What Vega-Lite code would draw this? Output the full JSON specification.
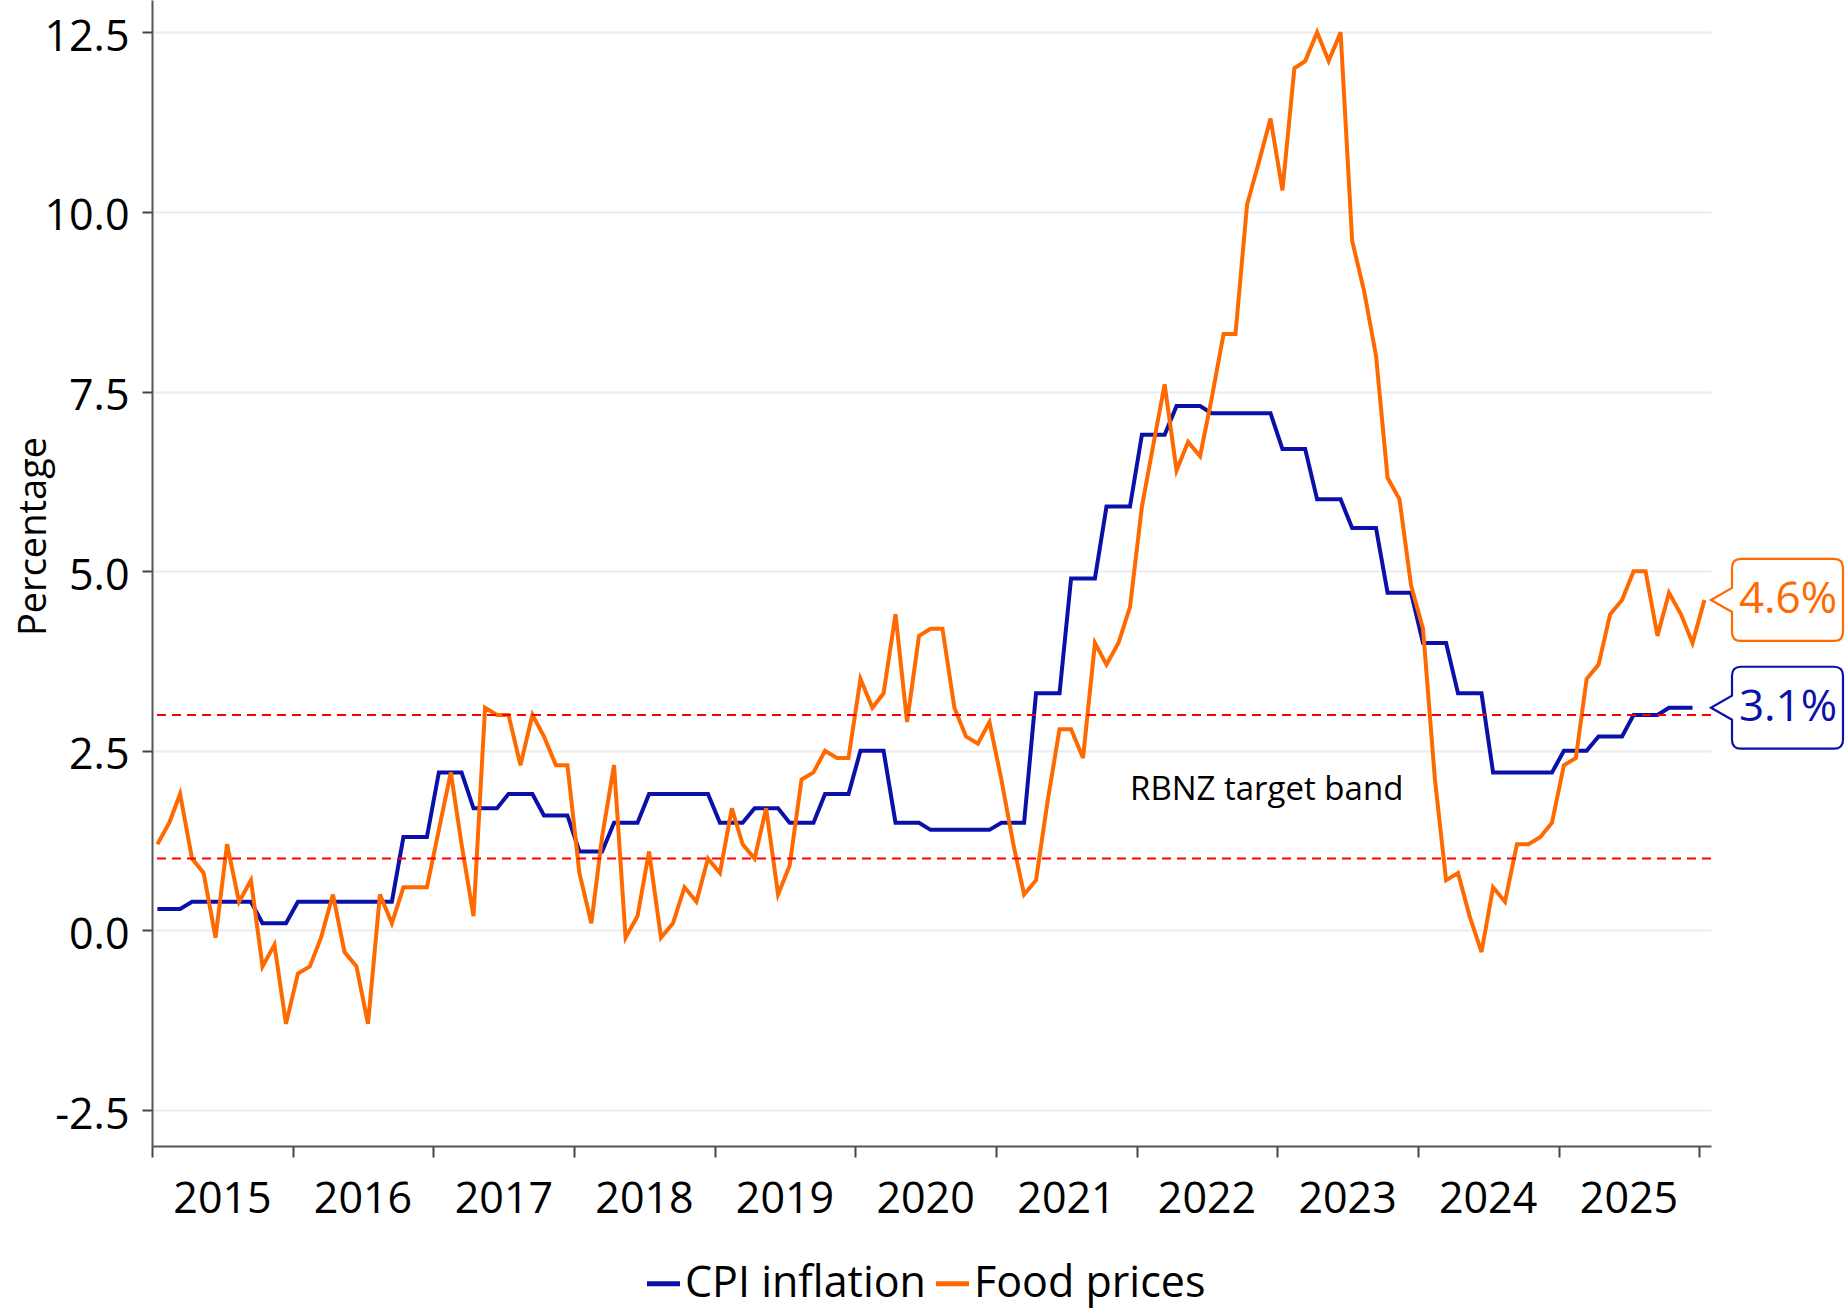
{
  "$schema": "https://vega.github.io/schema/vega-lite/v6.json",
  "width": 1559,
  "height": 1146,
  "autosize": {"type": "none"},
  "padding": {"left": 152, "top": 0, "right": 136, "bottom": 165},
  "background": "white",
  "config": {
    "view": {"stroke": null},
    "font": "Open Sans"
  },
  "datasets": {
    "series": [
      {"date":"2015-01-15","series":"CPI inflation","value":0.3},{"date":"2015-02-15","series":"CPI inflation","value":0.3},{"date":"2015-03-15","series":"CPI inflation","value":0.3},
      {"date":"2015-04-15","series":"CPI inflation","value":0.4},{"date":"2015-05-15","series":"CPI inflation","value":0.4},{"date":"2015-06-15","series":"CPI inflation","value":0.4},
      {"date":"2015-07-15","series":"CPI inflation","value":0.4},{"date":"2015-08-15","series":"CPI inflation","value":0.4},{"date":"2015-09-15","series":"CPI inflation","value":0.4},
      {"date":"2015-10-15","series":"CPI inflation","value":0.1},{"date":"2015-11-15","series":"CPI inflation","value":0.1},{"date":"2015-12-15","series":"CPI inflation","value":0.1},
      {"date":"2016-01-15","series":"CPI inflation","value":0.4},{"date":"2016-02-15","series":"CPI inflation","value":0.4},{"date":"2016-03-15","series":"CPI inflation","value":0.4},
      {"date":"2016-04-15","series":"CPI inflation","value":0.4},{"date":"2016-05-15","series":"CPI inflation","value":0.4},{"date":"2016-06-15","series":"CPI inflation","value":0.4},
      {"date":"2016-07-15","series":"CPI inflation","value":0.4},{"date":"2016-08-15","series":"CPI inflation","value":0.4},{"date":"2016-09-15","series":"CPI inflation","value":0.4},
      {"date":"2016-10-15","series":"CPI inflation","value":1.3},{"date":"2016-11-15","series":"CPI inflation","value":1.3},{"date":"2016-12-15","series":"CPI inflation","value":1.3},
      {"date":"2017-01-15","series":"CPI inflation","value":2.2},{"date":"2017-02-15","series":"CPI inflation","value":2.2},{"date":"2017-03-15","series":"CPI inflation","value":2.2},
      {"date":"2017-04-15","series":"CPI inflation","value":1.7},{"date":"2017-05-15","series":"CPI inflation","value":1.7},{"date":"2017-06-15","series":"CPI inflation","value":1.7},
      {"date":"2017-07-15","series":"CPI inflation","value":1.9},{"date":"2017-08-15","series":"CPI inflation","value":1.9},{"date":"2017-09-15","series":"CPI inflation","value":1.9},
      {"date":"2017-10-15","series":"CPI inflation","value":1.6},{"date":"2017-11-15","series":"CPI inflation","value":1.6},{"date":"2017-12-15","series":"CPI inflation","value":1.6},
      {"date":"2018-01-15","series":"CPI inflation","value":1.1},{"date":"2018-02-15","series":"CPI inflation","value":1.1},{"date":"2018-03-15","series":"CPI inflation","value":1.1},
      {"date":"2018-04-15","series":"CPI inflation","value":1.5},{"date":"2018-05-15","series":"CPI inflation","value":1.5},{"date":"2018-06-15","series":"CPI inflation","value":1.5},
      {"date":"2018-07-15","series":"CPI inflation","value":1.9},{"date":"2018-08-15","series":"CPI inflation","value":1.9},{"date":"2018-09-15","series":"CPI inflation","value":1.9},
      {"date":"2018-10-15","series":"CPI inflation","value":1.9},{"date":"2018-11-15","series":"CPI inflation","value":1.9},{"date":"2018-12-15","series":"CPI inflation","value":1.9},
      {"date":"2019-01-15","series":"CPI inflation","value":1.5},{"date":"2019-02-15","series":"CPI inflation","value":1.5},{"date":"2019-03-15","series":"CPI inflation","value":1.5},
      {"date":"2019-04-15","series":"CPI inflation","value":1.7},{"date":"2019-05-15","series":"CPI inflation","value":1.7},{"date":"2019-06-15","series":"CPI inflation","value":1.7},
      {"date":"2019-07-15","series":"CPI inflation","value":1.5},{"date":"2019-08-15","series":"CPI inflation","value":1.5},{"date":"2019-09-15","series":"CPI inflation","value":1.5},
      {"date":"2019-10-15","series":"CPI inflation","value":1.9},{"date":"2019-11-15","series":"CPI inflation","value":1.9},{"date":"2019-12-15","series":"CPI inflation","value":1.9},
      {"date":"2020-01-15","series":"CPI inflation","value":2.5},{"date":"2020-02-15","series":"CPI inflation","value":2.5},{"date":"2020-03-15","series":"CPI inflation","value":2.5},
      {"date":"2020-04-15","series":"CPI inflation","value":1.5},{"date":"2020-05-15","series":"CPI inflation","value":1.5},{"date":"2020-06-15","series":"CPI inflation","value":1.5},
      {"date":"2020-07-15","series":"CPI inflation","value":1.4},{"date":"2020-08-15","series":"CPI inflation","value":1.4},{"date":"2020-09-15","series":"CPI inflation","value":1.4},
      {"date":"2020-10-15","series":"CPI inflation","value":1.4},{"date":"2020-11-15","series":"CPI inflation","value":1.4},{"date":"2020-12-15","series":"CPI inflation","value":1.4},
      {"date":"2021-01-15","series":"CPI inflation","value":1.5},{"date":"2021-02-15","series":"CPI inflation","value":1.5},{"date":"2021-03-15","series":"CPI inflation","value":1.5},
      {"date":"2021-04-15","series":"CPI inflation","value":3.3},{"date":"2021-05-15","series":"CPI inflation","value":3.3},{"date":"2021-06-15","series":"CPI inflation","value":3.3},
      {"date":"2021-07-15","series":"CPI inflation","value":4.9},{"date":"2021-08-15","series":"CPI inflation","value":4.9},{"date":"2021-09-15","series":"CPI inflation","value":4.9},
      {"date":"2021-10-15","series":"CPI inflation","value":5.9},{"date":"2021-11-15","series":"CPI inflation","value":5.9},{"date":"2021-12-15","series":"CPI inflation","value":5.9},
      {"date":"2022-01-15","series":"CPI inflation","value":6.9},{"date":"2022-02-15","series":"CPI inflation","value":6.9},{"date":"2022-03-15","series":"CPI inflation","value":6.9},
      {"date":"2022-04-15","series":"CPI inflation","value":7.3},{"date":"2022-05-15","series":"CPI inflation","value":7.3},{"date":"2022-06-15","series":"CPI inflation","value":7.3},
      {"date":"2022-07-15","series":"CPI inflation","value":7.2},{"date":"2022-08-15","series":"CPI inflation","value":7.2},{"date":"2022-09-15","series":"CPI inflation","value":7.2},
      {"date":"2022-10-15","series":"CPI inflation","value":7.2},{"date":"2022-11-15","series":"CPI inflation","value":7.2},{"date":"2022-12-15","series":"CPI inflation","value":7.2},
      {"date":"2023-01-15","series":"CPI inflation","value":6.7},{"date":"2023-02-15","series":"CPI inflation","value":6.7},{"date":"2023-03-15","series":"CPI inflation","value":6.7},
      {"date":"2023-04-15","series":"CPI inflation","value":6.0},{"date":"2023-05-15","series":"CPI inflation","value":6.0},{"date":"2023-06-15","series":"CPI inflation","value":6.0},
      {"date":"2023-07-15","series":"CPI inflation","value":5.6},{"date":"2023-08-15","series":"CPI inflation","value":5.6},{"date":"2023-09-15","series":"CPI inflation","value":5.6},
      {"date":"2023-10-15","series":"CPI inflation","value":4.7},{"date":"2023-11-15","series":"CPI inflation","value":4.7},{"date":"2023-12-15","series":"CPI inflation","value":4.7},
      {"date":"2024-01-15","series":"CPI inflation","value":4.0},{"date":"2024-02-15","series":"CPI inflation","value":4.0},{"date":"2024-03-15","series":"CPI inflation","value":4.0},
      {"date":"2024-04-15","series":"CPI inflation","value":3.3},{"date":"2024-05-15","series":"CPI inflation","value":3.3},{"date":"2024-06-15","series":"CPI inflation","value":3.3},
      {"date":"2024-07-15","series":"CPI inflation","value":2.2},{"date":"2024-08-15","series":"CPI inflation","value":2.2},{"date":"2024-09-15","series":"CPI inflation","value":2.2},
      {"date":"2024-10-15","series":"CPI inflation","value":2.2},{"date":"2024-11-15","series":"CPI inflation","value":2.2},{"date":"2024-12-15","series":"CPI inflation","value":2.2},
      {"date":"2025-01-15","series":"CPI inflation","value":2.5},{"date":"2025-02-15","series":"CPI inflation","value":2.5},{"date":"2025-03-15","series":"CPI inflation","value":2.5},
      {"date":"2025-04-15","series":"CPI inflation","value":2.7},{"date":"2025-05-15","series":"CPI inflation","value":2.7},{"date":"2025-06-15","series":"CPI inflation","value":2.7},
      {"date":"2025-07-15","series":"CPI inflation","value":3.0},{"date":"2025-08-15","series":"CPI inflation","value":3.0},{"date":"2025-09-15","series":"CPI inflation","value":3.0},
      {"date":"2025-10-15","series":"CPI inflation","value":3.1},{"date":"2025-11-15","series":"CPI inflation","value":3.1},{"date":"2025-12-15","series":"CPI inflation","value":3.1},

      {"date":"2015-01-15","series":"Food prices","value":1.2},{"date":"2015-02-15","series":"Food prices","value":1.5},{"date":"2015-03-15","series":"Food prices","value":1.9},
      {"date":"2015-04-15","series":"Food prices","value":1.0},{"date":"2015-05-15","series":"Food prices","value":0.8},{"date":"2015-06-15","series":"Food prices","value":-0.1},
      {"date":"2015-07-15","series":"Food prices","value":1.2},{"date":"2015-08-15","series":"Food prices","value":0.4},{"date":"2015-09-15","series":"Food prices","value":0.7},
      {"date":"2015-10-15","series":"Food prices","value":-0.5},{"date":"2015-11-15","series":"Food prices","value":-0.2},{"date":"2015-12-15","series":"Food prices","value":-1.3},
      {"date":"2016-01-15","series":"Food prices","value":-0.6},{"date":"2016-02-15","series":"Food prices","value":-0.5},{"date":"2016-03-15","series":"Food prices","value":-0.1},
      {"date":"2016-04-15","series":"Food prices","value":0.5},{"date":"2016-05-15","series":"Food prices","value":-0.3},{"date":"2016-06-15","series":"Food prices","value":-0.5},
      {"date":"2016-07-15","series":"Food prices","value":-1.3},{"date":"2016-08-15","series":"Food prices","value":0.5},{"date":"2016-09-15","series":"Food prices","value":0.1},
      {"date":"2016-10-15","series":"Food prices","value":0.6},{"date":"2016-11-15","series":"Food prices","value":0.6},{"date":"2016-12-15","series":"Food prices","value":0.6},
      {"date":"2017-01-15","series":"Food prices","value":1.4},{"date":"2017-02-15","series":"Food prices","value":2.2},{"date":"2017-03-15","series":"Food prices","value":1.2},
      {"date":"2017-04-15","series":"Food prices","value":0.2},{"date":"2017-05-15","series":"Food prices","value":3.1},{"date":"2017-06-15","series":"Food prices","value":3.0},
      {"date":"2017-07-15","series":"Food prices","value":3.0},{"date":"2017-08-15","series":"Food prices","value":2.3},{"date":"2017-09-15","series":"Food prices","value":3.0},
      {"date":"2017-10-15","series":"Food prices","value":2.7},{"date":"2017-11-15","series":"Food prices","value":2.3},{"date":"2017-12-15","series":"Food prices","value":2.3},
      {"date":"2018-01-15","series":"Food prices","value":0.8},{"date":"2018-02-15","series":"Food prices","value":0.1},{"date":"2018-03-15","series":"Food prices","value":1.3},
      {"date":"2018-04-15","series":"Food prices","value":2.3},{"date":"2018-05-15","series":"Food prices","value":-0.1},{"date":"2018-06-15","series":"Food prices","value":0.2},
      {"date":"2018-07-15","series":"Food prices","value":1.1},{"date":"2018-08-15","series":"Food prices","value":-0.1},{"date":"2018-09-15","series":"Food prices","value":0.1},
      {"date":"2018-10-15","series":"Food prices","value":0.6},{"date":"2018-11-15","series":"Food prices","value":0.4},{"date":"2018-12-15","series":"Food prices","value":1.0},
      {"date":"2019-01-15","series":"Food prices","value":0.8},{"date":"2019-02-15","series":"Food prices","value":1.7},{"date":"2019-03-15","series":"Food prices","value":1.2},
      {"date":"2019-04-15","series":"Food prices","value":1.0},{"date":"2019-05-15","series":"Food prices","value":1.7},{"date":"2019-06-15","series":"Food prices","value":0.5},
      {"date":"2019-07-15","series":"Food prices","value":0.9},{"date":"2019-08-15","series":"Food prices","value":2.1},{"date":"2019-09-15","series":"Food prices","value":2.2},
      {"date":"2019-10-15","series":"Food prices","value":2.5},{"date":"2019-11-15","series":"Food prices","value":2.4},{"date":"2019-12-15","series":"Food prices","value":2.4},
      {"date":"2020-01-15","series":"Food prices","value":3.5},{"date":"2020-02-15","series":"Food prices","value":3.1},{"date":"2020-03-15","series":"Food prices","value":3.3},
      {"date":"2020-04-15","series":"Food prices","value":4.4},{"date":"2020-05-15","series":"Food prices","value":2.9},{"date":"2020-06-15","series":"Food prices","value":4.1},
      {"date":"2020-07-15","series":"Food prices","value":4.2},{"date":"2020-08-15","series":"Food prices","value":4.2},{"date":"2020-09-15","series":"Food prices","value":3.1},
      {"date":"2020-10-15","series":"Food prices","value":2.7},{"date":"2020-11-15","series":"Food prices","value":2.6},{"date":"2020-12-15","series":"Food prices","value":2.9},
      {"date":"2021-01-15","series":"Food prices","value":2.1},{"date":"2021-02-15","series":"Food prices","value":1.2},{"date":"2021-03-15","series":"Food prices","value":0.5},
      {"date":"2021-04-15","series":"Food prices","value":0.7},{"date":"2021-05-15","series":"Food prices","value":1.8},{"date":"2021-06-15","series":"Food prices","value":2.8},
      {"date":"2021-07-15","series":"Food prices","value":2.8},{"date":"2021-08-15","series":"Food prices","value":2.4},{"date":"2021-09-15","series":"Food prices","value":4.0},
      {"date":"2021-10-15","series":"Food prices","value":3.7},{"date":"2021-11-15","series":"Food prices","value":4.0},{"date":"2021-12-15","series":"Food prices","value":4.5},
      {"date":"2022-01-15","series":"Food prices","value":5.9},{"date":"2022-02-15","series":"Food prices","value":6.8},{"date":"2022-03-15","series":"Food prices","value":7.6},
      {"date":"2022-04-15","series":"Food prices","value":6.4},{"date":"2022-05-15","series":"Food prices","value":6.8},{"date":"2022-06-15","series":"Food prices","value":6.6},
      {"date":"2022-07-15","series":"Food prices","value":7.4},{"date":"2022-08-15","series":"Food prices","value":8.3},{"date":"2022-09-15","series":"Food prices","value":8.3},
      {"date":"2022-10-15","series":"Food prices","value":10.1},{"date":"2022-11-15","series":"Food prices","value":10.7},{"date":"2022-12-15","series":"Food prices","value":11.3},
      {"date":"2023-01-15","series":"Food prices","value":10.3},{"date":"2023-02-15","series":"Food prices","value":12.0},{"date":"2023-03-15","series":"Food prices","value":12.1},
      {"date":"2023-04-15","series":"Food prices","value":12.5},{"date":"2023-05-15","series":"Food prices","value":12.1},{"date":"2023-06-15","series":"Food prices","value":12.5},
      {"date":"2023-07-15","series":"Food prices","value":9.6},{"date":"2023-08-15","series":"Food prices","value":8.9},{"date":"2023-09-15","series":"Food prices","value":8.0},
      {"date":"2023-10-15","series":"Food prices","value":6.3},{"date":"2023-11-15","series":"Food prices","value":6.0},{"date":"2023-12-15","series":"Food prices","value":4.8},
      {"date":"2024-01-15","series":"Food prices","value":4.2},{"date":"2024-02-15","series":"Food prices","value":2.1},{"date":"2024-03-15","series":"Food prices","value":0.7},
      {"date":"2024-04-15","series":"Food prices","value":0.8},{"date":"2024-05-15","series":"Food prices","value":0.2},{"date":"2024-06-15","series":"Food prices","value":-0.3},
      {"date":"2024-07-15","series":"Food prices","value":0.6},{"date":"2024-08-15","series":"Food prices","value":0.4},{"date":"2024-09-15","series":"Food prices","value":1.2},
      {"date":"2024-10-15","series":"Food prices","value":1.2},{"date":"2024-11-15","series":"Food prices","value":1.3},{"date":"2024-12-15","series":"Food prices","value":1.5},
      {"date":"2025-01-15","series":"Food prices","value":2.3},{"date":"2025-02-15","series":"Food prices","value":2.4},{"date":"2025-03-15","series":"Food prices","value":3.5},
      {"date":"2025-04-15","series":"Food prices","value":3.7},{"date":"2025-05-15","series":"Food prices","value":4.4},{"date":"2025-06-15","series":"Food prices","value":4.6},
      {"date":"2025-07-15","series":"Food prices","value":5.0},{"date":"2025-08-15","series":"Food prices","value":5.0},{"date":"2025-09-15","series":"Food prices","value":4.1},
      {"date":"2025-10-15","series":"Food prices","value":4.7},{"date":"2025-11-15","series":"Food prices","value":4.4},{"date":"2025-12-15","series":"Food prices","value":4.0},
      {"date":"2026-01-15","series":"Food prices","value":4.6}
    ],
    "bands": [{"value": 1}, {"value": 3}],
    "annotation": [{"date": "2022-12-05", "value": 1.95, "label": "RBNZ target band"}],
    "callouts": [
      {"date": "2026-02-01", "series": "CPI inflation", "value": 3.1, "label": "3.1%"},
      {"date": "2026-02-01", "series": "Food prices", "value": 4.6, "label": "4.6%"}
    ]
  },
  "layer": [
    {
      "data": {"name": "series"},
      "mark": {"type": "line", "strokeWidth": 4, "interpolate": "linear"},
      "encoding": {
        "x": {
          "field": "date", "type": "temporal",
          "scale": {"type": "utc", "domain": [{"year": 2015, "month": 1, "date": 1, "utc": true}, {"year": 2026, "month": 2, "date": 1, "utc": true}], "nice": false},
          "axis": {
            "title": null,
            "tickCount": {"interval": "year", "step": 1},
            "labelExpr": "utcyear(datum.value) > 2025 ? '' : utcFormat(datum.value, '%Y')",
            "labelOffset": 70, "labelFlush": false, "labelOverlap": false, "labelBound": false,
            "labelFontSize": 43, "labelFont": "Open Sans", "labelColor": "black", "labelPadding": 21,
            "tickSize": 11, "tickWidth": 2, "tickColor": "#444",
            "domainColor": "#555", "domainWidth": 2, "grid": false
          }
        },
        "y": {
          "field": "value", "type": "quantitative",
          "scale": {"domain": [-3, 12.95], "nice": false, "zero": false},
          "axis": {
            "title": "Percentage",
            "values": [-2.5, 0, 2.5, 5, 7.5, 10, 12.5],
            "labelExpr": "datum.value < 0 ? '-' + format(-datum.value, '.1f') : format(datum.value, '.1f')",
            "labelFontSize": 43, "labelFont": "Open Sans", "labelColor": "black", "labelPadding": 13, "labelOffset": 5,
            "tickSize": 10, "tickWidth": 2, "tickColor": "#444",
            "domainColor": "#555", "domainWidth": 2,
            "grid": true, "gridColor": "#ECECEC", "gridWidth": 2,
            "titleFont": "Open Sans", "titleFontSize": 38, "titleFontWeight": "normal", "titleColor": "black",
            "titleX": -99, "titleY": 536, "titleAngle": -90, "titleBaseline": "bottom", "titleAlign": "center"
          }
        },
        "color": {
          "field": "series", "type": "nominal",
          "scale": {"domain": ["CPI inflation", "Food prices"], "range": ["#0A10A8", "#FF6A00"]},
          "legend": {
            "title": null, "orient": "none", "legendX": 490, "legendY": 1262, "direction": "horizontal",
            "labelFontSize": 43, "labelFont": "Open Sans", "labelColor": "black", "labelLimit": 0,
            "symbolType": "stroke", "symbolSize": 1089, "symbolStrokeWidth": 5,
            "labelOffset": 0, "columnPadding": 0, "padding": 0
          }
        }
      }
    },
    {
      "data": {"name": "bands"},
      "mark": {"type": "rule", "color": "#FF0000", "strokeDash": [9, 6], "strokeWidth": 2},
      "encoding": {
        "y": {"field": "value", "type": "quantitative", "title": "Percentage"}
      }
    },
    {
      "data": {"name": "annotation"},
      "mark": {"type": "text", "fontSize": 33, "font": "Open Sans", "color": "black", "align": "center", "baseline": "middle"},
      "encoding": {
        "x": {"field": "date", "type": "temporal", "title": null},
        "y": {"field": "value", "type": "quantitative", "title": "Percentage"},
        "text": {"field": "label"}
      }
    },
    {
      "data": {"name": "callouts"},
      "mark": {
        "type": "point", "filled": true, "fill": "white", "fillOpacity": 1, "opacity": 1, "strokeWidth": 2.2, "size": 14400,
        "shape": "M0,0L0.35,-0.2L0.35,-0.533Q0.35,-0.683,0.5,-0.683L2.05,-0.683Q2.2,-0.683,2.2,-0.533L2.2,0.533Q2.2,0.683,2.05,0.683L0.5,0.683Q0.35,0.683,0.35,0.533L0.35,0.2Z"
      },
      "encoding": {
        "x": {"field": "date", "type": "temporal", "title": null},
        "y": {"field": "value", "type": "quantitative", "title": "Percentage"},
        "stroke": {"field": "series", "type": "nominal", "scale": {"domain": ["CPI inflation", "Food prices"], "range": ["#0A10A8", "#FF6A00"]}, "legend": null}
      }
    },
    {
      "data": {"name": "callouts"},
      "mark": {"type": "text", "fontSize": 44, "font": "Open Sans", "align": "center", "baseline": "middle", "dx": 77},
      "encoding": {
        "x": {"field": "date", "type": "temporal", "title": null},
        "y": {"field": "value", "type": "quantitative", "title": "Percentage"},
        "text": {"field": "label"},
        "fill": {"field": "series", "type": "nominal", "scale": {"domain": ["CPI inflation", "Food prices"], "range": ["#0A10A8", "#FF6A00"]}, "legend": null}
      }
    }
  ]
}
